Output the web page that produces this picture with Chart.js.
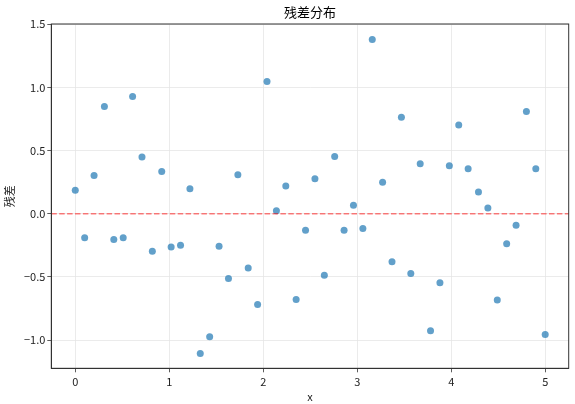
<!DOCTYPE html>
<html>
<head>
<meta charset="utf-8">
<script src="https://cdn.jsdelivr.net/npm/chart.js@4"></script>
<style>html,body{margin:0;padding:0;background:#fff}</style>
</head>
<body>
<canvas id="c" width="575" height="404"></canvas>
<script>
// x positions and residuals
const xs = [0.00, 0.10, 0.20, 0.31, 0.41, 0.51, 0.61, 0.71, 0.82, 0.92,
            1.02, 1.12, 1.22, 1.33, 1.43, 1.53, 1.63, 1.73, 1.84, 1.94,
            2.04, 2.14, 2.24, 2.35, 2.45, 2.55, 2.65, 2.76, 2.86, 2.96,
            3.06, 3.16, 3.27, 3.37, 3.47, 3.57, 3.67, 3.78, 3.88, 3.98,
            4.08, 4.18, 4.29, 4.39, 4.49, 4.59, 4.69, 4.80, 4.90, 5.00];
const residuals = [0.185, -0.19, 0.303, 0.848, -0.205, -0.19, 0.927, 0.448, -0.297, 0.335,
                   -0.263, -0.25, 0.198, -1.106, -0.974, -0.258, -0.513, 0.308, -0.429, -0.719,
                   1.046, 0.024, 0.219, -0.679, -0.131, 0.276, -0.487, 0.453, -0.131, 0.066,
                   -0.118, 1.38, 0.25, -0.381, 0.764, -0.474, 0.395, -0.927, -0.547, 0.379,
                   0.703, 0.355, 0.171, 0.045, -0.684, -0.237, -0.092, 0.809, 0.355, -0.956];
const xTicks = [0, 1, 2, 3, 4, 5];
const yTicks = [-1.0, -0.5, 0.0, 0.5, 1.0, 1.5];
const titleText = '残差分布';

const FONT = "'Noto Sans CJK SC', 'DejaVu Sans', sans-serif";
const fmt = (v)=> (v<0?'\u2212':'') + Math.abs(v).toFixed(1);

// ---------- plugins ----------
const zeroLine = {
  id:'zeroLine',
  afterDatasetsDraw(chart) {
    const {ctx, chartArea:a, scales:{y}} = chart;
    const py = y.getPixelForValue(0);
    ctx.save();
    ctx.strokeStyle = 'rgba(255,0,0,0.5)';
    ctx.lineWidth = 1.5;
    ctx.setLineDash([5.5, 2.4]);
    ctx.beginPath(); ctx.moveTo(a.left, py); ctx.lineTo(a.right, py); ctx.stroke();
    ctx.restore();
  }
};
// spines on all sides + title centred over the plot area (like matplotlib)
const frame = {
  id:'frame',
  afterDraw(chart) {
    const {ctx, chartArea:a} = chart;
    ctx.save();
    ctx.strokeStyle = '#333'; ctx.lineWidth = 1;
    ctx.strokeRect(a.left, a.top, a.right-a.left, a.bottom-a.top);
    ctx.fillStyle = '#000';
    ctx.font = "13px " + FONT;
    ctx.textAlign = 'center'; ctx.textBaseline = 'middle';
    ctx.fillText(titleText, (a.left+a.right)/2, 11.7);
    ctx.restore();
  }
};

new Chart(document.getElementById('c'), {
  type:'scatter',
  data:{
    datasets:[{
      data: xs.map((x,i)=>({x, y:residuals[i]})),
      backgroundColor:'rgba(31,119,180,0.7)',
      borderColor:'rgba(31,119,180,0.7)',
      borderWidth:0,
      pointRadius:3.5
    }]
  },
  options:{
    responsive:false, animation:false,
    layout:{ padding:{top:24, right:6.3, left:0, bottom:0} },
    plugins:{ legend:{display:false}, tooltip:{enabled:false}, title:{display:false} },
    scales:{
      x:{
        type:'linear', min:-0.255, max:5.25,
        afterBuildTicks:(s)=>{ s.ticks = xTicks.map(v=>({value:v})); },
        afterFit:(s)=>{ s.height = 35.7; },
        ticks:{ color:'#222', font:{family:FONT, size:11}, padding:3, callback:(v)=> String(v) },
        grid:{ color:'#e6e6e6', lineWidth:0.8, tickColor:'#333', tickLength:4 },
        border:{ display:true, color:'#333', width:1 },
        title:{ display:true, text:'x', color:'#222', font:{family:FONT, size:11}, padding:{top:0, bottom:1} }
      },
      y:{
        min:-1.224, max:1.502,
        afterBuildTicks:(s)=>{ s.ticks = yTicks.map(v=>({value:v})); },
        afterFit:(s)=>{ s.width = 51.3; },
        ticks:{ color:'#222', font:{family:FONT, size:11}, padding:2, callback:(v)=> fmt(v) },
        grid:{ color:'#e6e6e6', lineWidth:0.8, tickColor:'#333', tickLength:4 },
        border:{ display:true, color:'#333', width:1 },
        title:{ display:true, text:'残差', color:'#222', font:{family:FONT, size:11}, padding:{top:3, bottom:0} }
      }
    }
  },
  plugins:[zeroLine, frame]
});
</script>
</body>
</html>
